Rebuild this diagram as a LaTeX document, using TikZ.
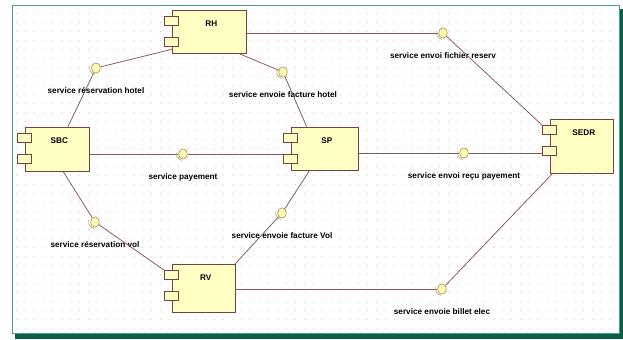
\documentclass[tikz,border=0pt]{standalone}
\usepackage{fontspec}
\setmainfont{Liberation Sans}
\usetikzlibrary{calc}
\usetikzlibrary{positioning}
\usetikzlibrary{shapes.geometric}

\definecolor{compfill}{HTML}{FFFFC4}
\definecolor{compline}{HTML}{7B3F3F}
\definecolor{wirecol}{HTML}{835858}
\definecolor{ifill}{HTML}{FFFBB0}
\definecolor{iline}{HTML}{A8925A}
\definecolor{shadowgreen}{HTML}{0B5E47}
\definecolor{frameline}{HTML}{4E9A8A}
\definecolor{griddot}{HTML}{D2D2D2}

\begin{document}
\begin{tikzpicture}[x=0.03cm, y=-0.03cm,
    lbl/.style={font=\fontsize{7}{8}\selectfont\bfseries, inner sep=0pt, text height=1.6ex, text depth=0.4ex},
    ilbl/.style={lbl, yshift=-0.3cm},
    component/.style={rectangle, draw=compline, fill=compfill, line width=0.6pt, inner sep=0pt,
        label={[lbl, anchor=north, xshift=2pt, yshift=-5.5pt]north:#1}},
    port/.style={rectangle, draw=compline, fill=compfill, line width=0.6pt, minimum width=0.42cm, minimum height=0.27cm, inner sep=0pt},
    iface/.style={ellipse, draw=iline, fill=ifill, line width=0.5pt, minimum width=0.26cm, minimum height=0.31cm, inner sep=0pt},
    wire/.style={draw=wirecol, line width=0.65pt}]
    \useasboundingbox (0,0) rectangle (623,339);
    \fill[white] (0,0) rectangle (623,339);
    \fill[shadowgreen] (15,9) rectangle (623,339);
    \draw[frameline, fill=white, line width=0.6pt] (12,5) rectangle (619,333);
    \foreach \y in {13,22,...,330}
        \draw[griddot, line width=0.7pt, dash pattern=on 0.7pt off 6.98pt] (16,\y) -- (616,\y);

    \node [component=RH, minimum width=2.22cm, minimum height=1.29cm] (rh) at (209,31.5) {};
    \node [component=SBC, minimum width=1.92cm, minimum height=1.32cm] (sbc) at (57,149) {};
    \node [component=SP, minimum width=2.01cm, minimum height=1.29cm] (sp) at (324.5,148.5) {};
    \node [component=SEDR, minimum width=1.89cm, minimum height=1.62cm] (sedr) at (581.5,146) {};
    \node [component=RV, minimum width=1.89cm, minimum height=1.44cm] (rv) at (203.5,288) {};
    \foreach \c in {rh,sbc,sp,sedr,rv} {
        \node [port] (\c-p1) at ($(\c.north west)+(0,11.5)$) {};
        \node [port] (\c-p2) at ($(\c.north west)+(0,32)$) {};
    }

    \node [iface, label={[ilbl]below:service réservation hotel}] (reshotel) at (96,68) {};
    \node [iface, label={[ilbl]below:service envoie facture hotel}] (facthotel) at (283,72) {};
    \node [iface, label={[ilbl]below:service payement}] (payement) at (183,154) {};
    \node [iface, label={[ilbl]below:service envoi fichier reserv}] (fichier) at (443,33) {};
    \node [iface, label={[ilbl]below:service envoi reçu payement}] (recu) at (464,153) {};
    \node [iface, label={[ilbl]below:service réservation vol}] (resvol) at (95,222) {};
    \node [iface, label={[ilbl]below:service envoie facture Vol}] (factvol) at (282,213) {};
    \node [iface, label={[ilbl]below:service envoie billet elec}] (billet) at (442,289) {};

    \draw [wire] (reshotel) -- ($(rh.south west)+(0,-4)$);
    \draw [wire] (reshotel) -- ($(sbc.north)+(11,0)$);
    \draw [wire] (facthotel) -- ($(rh.south east)+(-8,0)$);
    \draw [wire] (facthotel) -- ($(sp.north west)+(16,0)$);
    \draw [wire] (payement) -- (sbc.east |- payement);
    \draw [wire] (payement) -- (sp-p2.west |- payement);
    \draw [wire] (fichier) -- (rh.east |- fichier);
    \draw [wire] (fichier) -- (sedr-p1.north west);
    \draw [wire] (recu) -- (sp.east |- recu);
    \draw [wire] (recu) -- (sedr-p2.west |- recu);
    \draw [wire] (resvol) -- ($(sbc.south)+(6,0)$);
    \draw [wire] (resvol) -- (rv-p1.north west);
    \draw [wire] (factvol) -- ($(sp.south west)+(19,0)$);
    \draw [wire] (factvol) -- (rv.north east);
    \draw [wire] (billet) -- (rv.east |- billet);
    \draw [wire] (billet) -- ($(sedr.south west)+(3,0)$);

    \foreach \i in {reshotel,facthotel,payement,fichier,recu,resvol,factvol,billet}
        \draw [iline, line width=0.5pt] ($(\i)+(100:6.5)$) arc (100:200:6.5);
\end{tikzpicture}
\end{document}
